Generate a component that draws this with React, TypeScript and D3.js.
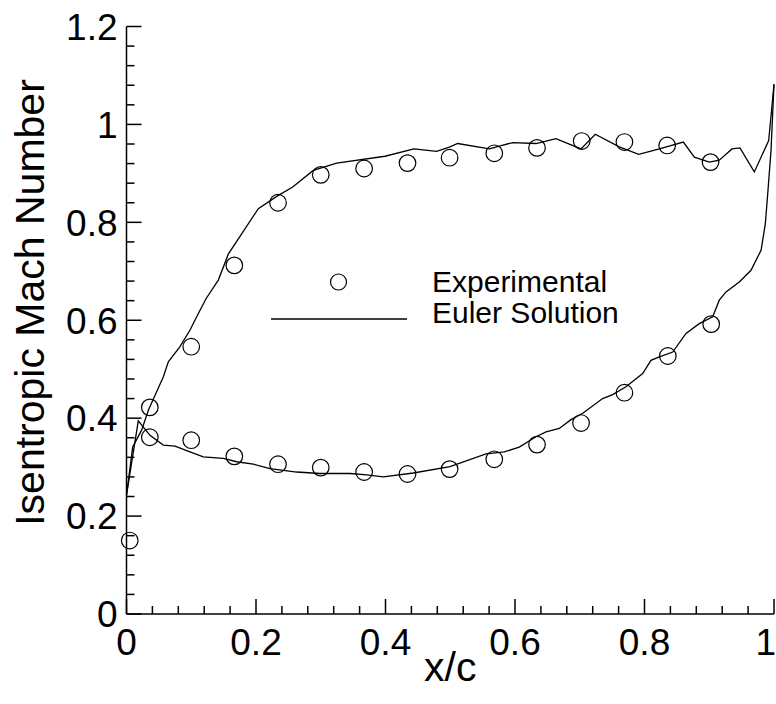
import * as d3 from "d3";
import { useEffect, useRef } from "react";

// Experimental data (circles)
const expX = [0.005, 0.036, 0.1, 0.1665, 0.234, 0.3, 0.367, 0.434, 0.499, 0.568, 0.634, 0.703, 0.769, 0.835, 0.902,
  0.036, 0.1, 0.1665, 0.234, 0.3, 0.367, 0.434, 0.499, 0.568, 0.634, 0.702, 0.769, 0.836, 0.903];
const expM = [0.15, 0.422, 0.546, 0.712, 0.84, 0.897, 0.91, 0.921, 0.932, 0.941, 0.952, 0.966, 0.964, 0.957, 0.923,
  0.361, 0.355, 0.322, 0.306, 0.299, 0.29, 0.286, 0.296, 0.316, 0.346, 0.39, 0.452, 0.527, 0.592];

// Euler solution, upper surface
const upperX = [0, 0.0096, 0.0235, 0.0337, 0.0568, 0.0646, 0.0826, 0.0981, 0.1084, 0.1228, 0.1418, 0.1572, 0.2036,
  0.232, 0.2567, 0.2885, 0.3246, 0.3992, 0.444, 0.479, 0.4996, 0.5115, 0.5603, 0.5965, 0.6324, 0.6633, 0.7019,
  0.724, 0.7611, 0.791, 0.8229, 0.86, 0.877, 0.9001, 0.9155, 0.9351, 0.9475, 0.9696, 0.9918, 1.0];
const upperM = [0.243, 0.341, 0.376, 0.416, 0.484, 0.515, 0.546, 0.58, 0.607, 0.644, 0.682, 0.735, 0.828,
  0.853, 0.872, 0.906, 0.921, 0.935, 0.95, 0.945, 0.954, 0.961, 0.95, 0.963, 0.961, 0.971, 0.95,
  0.98, 0.954, 0.939, 0.95, 0.964, 0.933, 0.923, 0.927, 0.95, 0.952, 0.903, 0.967, 1.082];

// Euler solution, lower surface
const lowerX = [0, 0.0182, 0.0363, 0.0568, 0.0749, 0.0981, 0.1186, 0.1495, 0.1702, 0.1958, 0.2216, 0.2629, 0.2988,
  0.3452, 0.371, 0.3966, 0.4429, 0.4996, 0.5552, 0.5835, 0.6066, 0.6324, 0.6479, 0.6684, 0.6865, 0.7046, 0.7354,
  0.7509, 0.7714, 0.7972, 0.81, 0.8229, 0.8436, 0.8641, 0.8846, 0.9053, 0.9155, 0.9259, 0.9464, 0.9645, 0.98,
  0.9866, 0.9907, 0.9954, 1.0];
const lowerM = [0.243, 0.3945, 0.365, 0.345, 0.343, 0.331, 0.321, 0.318, 0.311, 0.306, 0.297, 0.29, 0.287,
  0.287, 0.284, 0.28, 0.288, 0.301, 0.327, 0.331, 0.341, 0.362, 0.372, 0.379, 0.397, 0.41, 0.44,
  0.448, 0.464, 0.491, 0.518, 0.525, 0.535, 0.573, 0.593, 0.607, 0.641, 0.658, 0.678, 0.702, 0.743,
  0.797, 0.865, 0.947, 1.082];

const xTicks = [0, 0.2, 0.4, 0.6, 0.8, 1];
const yTicks = [0, 0.2, 0.4, 0.6, 0.8, 1, 1.2];

const FONT = "'Liberation Sans', Arial, Helvetica, sans-serif";

const App = () => {
  const ref = useRef<SVGSVGElement>(null);

  const width = 776;
  const height = 704;
  const margin = { left: 126.5, right: 2, top: 26.5, bottom: 90 };

  useEffect(() => {
    const svg = d3.select(ref.current);
    svg.selectAll("*").remove();

    const x = d3.scaleLinear().domain([0, 1]).range([margin.left, 774]);
    const y = d3.scaleLinear().domain([0, 1.2]).range([614, margin.top]);

    // axes lines
    const g = svg.append("g").attr("stroke", "#000").attr("stroke-width", 1.5).attr("fill", "none");
    g.append("line").attr("x1", x(0)).attr("x2", x(0)).attr("y1", y(0)).attr("y2", y(1.2));
    g.append("line").attr("x1", x(0)).attr("x2", x(1)).attr("y1", y(0)).attr("y2", y(0));

    // ticks, inward; minor every 0.04
    const minor = d3.range(0, 31).map(i => i * 0.04);
    minor.filter(v => v <= 1.2001).forEach((v, i) => {
      const len = i % 5 === 0 ? 15 : 8;
      g.append("line").attr("x1", x(0)).attr("x2", x(0) + len).attr("y1", y(v)).attr("y2", y(v));
    });
    minor.filter(v => v <= 1.0001).forEach((v, i) => {
      const len = i % 5 === 0 ? 15 : 8;
      g.append("line").attr("x1", x(v)).attr("x2", x(v)).attr("y1", y(0)).attr("y2", y(0) - len);
    });

    // tick labels
    svg.append("g")
      .selectAll("text")
      .data(yTicks)
      .enter()
      .append("text")
      .attr("x", x(0) - 9)
      .attr("y", d => y(d))
      .attr("dy", "0.36em")
      .attr("text-anchor", "end")
      .style("font-family", FONT)
      .style("font-size", "37px")
      .text(d => d3.format("~g")(d));

    // last label sits against the right edge
    svg.append("g")
      .selectAll("text")
      .data(xTicks)
      .enter()
      .append("text")
      .attr("x", d => (d === 1 ? width : x(d)))
      .attr("y", y(0) + 41)
      .attr("text-anchor", d => (d === 1 ? "end" : "middle"))
      .style("font-family", FONT)
      .style("font-size", "37px")
      .text(d => d3.format("~g")(d));

    // axis titles
    svg.append("text")
      .attr("x", (x(0) + x(1)) / 2)
      .attr("y", 681)
      .attr("text-anchor", "middle")
      .style("font-family", FONT)
      .style("font-size", "41px")
      .text("x/c");

    svg.append("text")
      .attr("transform", `translate(44, ${(78 + 527) / 2}) rotate(-90)`)
      .attr("text-anchor", "middle")
      .style("font-family", FONT)
      .style("font-size", "41px")
      .text("Isentropic Mach Number");

    // Euler lines
    const line = d3.line<number>().x(i => x(i[0])).y(i => y(i[1]));
    const upper = upperX.map((v, i) => [v, upperM[i]]);
    const lower = lowerX.map((v, i) => [v, lowerM[i]]);
    [upper, lower].forEach(pts => {
      svg.append("path")
        .attr("d", line(pts as any))
        .attr("fill", "none")
        .attr("stroke", "#000")
        .attr("stroke-width", 1.3);
    });

    // experimental circles
    svg.append("g")
      .selectAll("circle")
      .data(expX.map((v, i) => [v, expM[i]]))
      .enter()
      .append("circle")
      .attr("cx", d => x(d[0]))
      .attr("cy", d => y(d[1]))
      .attr("r", 8.3)
      .attr("fill", "none")
      .attr("stroke", "#000")
      .attr("stroke-width", 1.2);

    // legend
    const lg = svg.append("g");
    lg.append("circle").attr("cx", 338.5).attr("cy", 282).attr("r", 8)
      .attr("fill", "none").attr("stroke", "#000").attr("stroke-width", 1.2);
    lg.append("line").attr("x1", 271).attr("x2", 407).attr("y1", 319).attr("y2", 319)
      .attr("stroke", "#000").attr("stroke-width", 1.3);
    lg.append("text").attr("x", 432).attr("y", 292)
      .style("font-family", FONT).style("font-size", "30px").text("Experimental");
    lg.append("text").attr("x", 432).attr("y", 322.5)
      .style("font-family", FONT).style("font-size", "30px").text("Euler Solution");
  }, []);

  return (
    <svg ref={ref} width={width} height={height}
      style={{ position: "absolute", left: 0, top: 0, background: "#fff" }}></svg>
  );
};

export default App;
